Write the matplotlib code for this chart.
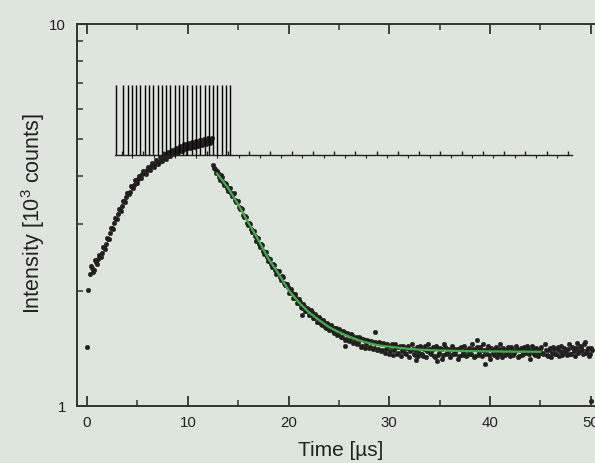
import numpy as np
import matplotlib
matplotlib.use("Agg")
import matplotlib.pyplot as plt

# ---- data ----
# two early points at the very start of the trace
early_t = [0.03, 0.13]
early_y = [1.43, 2.01]

# rising part, two interleaved sample sets, every 0.2 us
rise_t0, rise_dt = 0.3, 0.2
rise_y = [2.22, 2.30, 2.27, 2.38, 2.42, 2.47, 2.52, 2.60, 2.66, 2.74,
          2.84, 2.93, 3.02, 3.08, 3.18, 3.27, 3.33, 3.45, 3.52, 3.60,
          3.64, 3.75, 3.80, 3.84, 3.93, 3.96, 4.05, 4.08, 4.15, 4.18,
          4.24, 4.27, 4.30, 4.36, 4.35, 4.42, 4.46, 4.47, 4.55, 4.52,
          4.60, 4.63, 4.62, 4.70, 4.66, 4.74, 4.72, 4.78, 4.76, 4.81,
          4.79, 4.85, 4.82, 4.88, 4.84, 4.90, 4.87, 4.93, 4.90, 4.96,
          4.94]
rise2_t0 = 0.4
rise2_y = [2.33, 2.24, 2.41, 2.36, 2.49, 2.46, 2.60, 2.58, 2.75, 2.74,
           2.92, 2.90, 3.10, 3.08, 3.27, 3.24, 3.44, 3.42, 3.62, 3.58,
           3.76, 3.72, 3.90, 3.83, 4.01, 3.95, 4.13, 4.05, 4.23, 4.15,
           4.33, 4.23, 4.41, 4.30, 4.49, 4.38, 4.56, 4.44, 4.62, 4.50,
           4.68, 4.56, 4.74, 4.61, 4.79, 4.66, 4.84, 4.70, 4.88, 4.74,
           4.91, 4.77, 4.95, 4.80, 4.98, 4.83, 5.01, 4.86, 5.03, 4.89,
           5.02]

# decay part, two interleaved sample sets, every 0.2 us
decay_t0, decay_dt = 12.5, 0.2
decay_y = [4.28, 4.18, 4.12, 3.98, 4.02, 3.86, 3.84, 3.72, 3.73, 3.60,
           3.58, 3.47, 3.44, 3.31, 3.30, 3.17, 3.14, 3.02, 3.01, 2.91,
           2.88, 2.78, 2.76, 2.66, 2.65, 2.55, 2.53, 2.45, 2.42, 2.36,
           2.35, 2.27, 2.25, 2.18, 2.19, 2.10, 2.09, 2.05, 1.99, 1.98,
           1.92, 1.92, 1.86, 1.87, 1.81, 1.83, 1.77, 1.79, 1.73, 1.76,
           1.70, 1.72, 1.66, 1.69, 1.63, 1.66, 1.60, 1.63, 1.59, 1.61,
           1.55, 1.60, 1.54, 1.57, 1.52, 1.56, 1.50, 1.54, 1.49, 1.53,
           1.47, 1.52, 1.46, 1.51, 1.44, 1.49, 1.45, 1.48, 1.43, 1.47,
           1.42, 1.46, 1.41, 1.46, 1.40, 1.45, 1.41, 1.44, 1.39, 1.45,
           1.40, 1.43, 1.38, 1.44, 1.39, 1.42, 1.37, 1.44, 1.39, 1.41,
           1.36, 1.43, 1.38, 1.42, 1.35, 1.44, 1.39, 1.41, 1.37, 1.43,
           1.34, 1.42, 1.38, 1.41, 1.36, 1.43, 1.38, 1.40, 1.36, 1.42,
           1.37, 1.41, 1.35, 1.43, 1.38, 1.40, 1.36, 1.42, 1.37, 1.41,
           1.35, 1.43, 1.38, 1.40, 1.45, 1.37, 1.41, 1.36, 1.42, 1.38,
           1.40, 1.34, 1.41, 1.37, 1.42, 1.36, 1.40, 1.38, 1.43, 1.36,
           1.39, 1.41, 1.35, 1.42, 1.37, 1.40, 1.44, 1.37, 1.39, 1.42,
           1.36, 1.40, 1.38, 1.43, 1.37, 1.40, 1.35, 1.42, 1.38, 1.41,
           1.37, 1.43, 1.39, 1.36, 1.42, 1.38, 1.41, 1.37, 1.43, 1.39,
           1.42, 1.38, 1.44, 1.40, 1.45, 1.38, 1.42, 1.37, 1.40]
decay2_t0 = 12.6
decay2_y = [4.20, 4.07, 4.08, 3.90, 3.97, 3.80, 3.81, 3.66, 3.73, 3.55,
            3.60, 3.41, 3.44, 3.27, 3.28, 3.12, 3.13, 2.97, 3.00, 2.85,
            2.88, 2.71, 2.76, 2.61, 2.64, 2.50, 2.53, 2.40, 2.43, 2.31,
            2.34, 2.22, 2.26, 2.14, 2.18, 2.07, 2.09, 1.98, 2.03, 1.92,
            1.96, 1.86, 1.91, 1.82, 1.85, 1.77, 1.81, 1.73, 1.78, 1.70,
            1.74, 1.66, 1.71, 1.64, 1.68, 1.61, 1.65, 1.58, 1.63, 1.57,
            1.60, 1.53, 1.59, 1.52, 1.57, 1.49, 1.55, 1.48, 1.54, 1.46,
            1.51, 1.45, 1.52, 1.43, 1.50, 1.42, 1.49, 1.42, 1.48, 1.41,
            1.47, 1.40, 1.47, 1.39, 1.46, 1.38, 1.45, 1.37, 1.44, 1.36,
            1.45, 1.37, 1.43, 1.35, 1.44, 1.38, 1.42, 1.34, 1.45, 1.37,
            1.40, 1.35, 1.44, 1.37, 1.41, 1.34, 1.45, 1.38, 1.40, 1.35,
            1.44, 1.36, 1.42, 1.33, 1.45, 1.37, 1.41, 1.34, 1.44, 1.38,
            1.40, 1.33, 1.42, 1.36, 1.44, 1.35, 1.40, 1.37, 1.45, 1.34,
            1.41, 1.36, 1.43, 1.35, 1.40, 1.38, 1.44, 1.33, 1.41, 1.36,
            1.43, 1.38, 1.45, 1.34, 1.40, 1.37, 1.43, 1.35, 1.41, 1.38,
            1.44, 1.34, 1.40, 1.36, 1.43, 1.38, 1.41, 1.33, 1.44, 1.37,
            1.42, 1.35, 1.41, 1.38, 1.45, 1.36, 1.40, 1.34, 1.43, 1.37,
            1.41, 1.35, 1.44, 1.38, 1.40, 1.36, 1.45, 1.37, 1.42, 1.35,
            1.46, 1.39, 1.43, 1.37, 1.47, 1.40, 1.35, 1.42]

# a few stray points away from the band
stray_t = [21.3, 25.6, 28.6, 32.6, 34.7, 38.7, 39.5, 50.0]
stray_y = [1.73, 1.44, 1.56, 1.32, 1.31, 1.49, 1.29, 1.03]

# fitted decay curve
fit_t = [12.9, 13, 14, 15, 16, 17, 18, 19, 20, 21, 22, 23, 24, 25, 26,
         27, 28, 29, 30, 31, 32, 33, 34, 36, 38, 40, 42, 45]
fit_y = [4.06, 4.03, 3.72, 3.37, 3.02, 2.72, 2.43, 2.22, 2.01, 1.87, 1.76,
         1.68, 1.61, 1.56, 1.52, 1.485, 1.46, 1.44, 1.43, 1.42, 1.41,
         1.405, 1.40, 1.395, 1.392, 1.39, 1.388, 1.387]

# pulse train schematic
pulse_t = [2.85, 3.60, 4.02, 4.45, 4.87, 5.30, 5.72, 6.14, 6.57, 6.99,
           7.42, 7.84, 8.26, 8.69, 9.11, 9.54, 9.96, 10.38, 10.81, 11.23,
           11.66, 12.08, 12.50, 12.93, 13.35, 13.78, 14.20]
pulse_low, pulse_high = 4.54, 6.93
train_start, train_end = 2.8, 48.1
train_major = [3.45, 5.56, 7.66, 9.77, 11.88, 13.99, 16.09, 18.20, 20.31,
               22.42, 24.52, 26.63, 28.74, 30.85, 32.95, 35.06, 37.17,
               39.28, 41.38, 43.49, 45.60, 47.70]
train_minor = [4.50, 6.61, 8.72, 10.83, 12.93, 15.04, 17.15, 19.25, 21.36,
               23.47, 25.58, 27.68, 29.79, 31.90, 34.01, 36.11, 38.22,
               40.33, 42.44, 44.54, 46.65]

# ---- styling ----
plt.rcParams['font.family'] = ['Liberation Sans', 'DejaVu Sans']
plt.rcParams['mathtext.fontset'] = 'custom'
plt.rcParams['mathtext.rm'] = 'Liberation Sans'
plt.rcParams['mathtext.default'] = 'regular'

bg = '#dee5dd'
ink = '#231f20'
edge = '#333333'

fig = plt.figure(figsize=(5.95, 4.63), dpi=100, facecolor=bg)
ax = fig.add_axes([77 / 595, 57 / 463, 534 / 595, 382 / 463])
ax.set_facecolor(bg)

rise_t = rise_t0 + rise_dt * np.arange(len(rise_y))
rise2_t = rise2_t0 + rise_dt * np.arange(len(rise2_y))
decay_t = decay_t0 + decay_dt * np.arange(len(decay_y))
decay2_t = decay2_t0 + decay_dt * np.arange(len(decay2_y))

dot = dict(ls='none', marker='o', ms=3.3, color=ink, mec=ink, mew=0.3)
ax.plot(early_t, early_y, **dot)
ax.plot(rise_t, rise_y, **dot)
ax.plot(rise2_t, rise2_y, **dot)
ax.plot(decay_t, decay_y, **dot)
ax.plot(decay2_t, decay2_y, **dot)
ax.plot(stray_t, stray_y, **dot)
ax.plot(fit_t, fit_y, color='#3cb043', lw=1.6, zorder=3)

# pulse train
ax.vlines(pulse_t, pulse_low, pulse_high, color='black', lw=1.0)
ax.plot([train_start, train_end], [pulse_low, pulse_low], color=ink, lw=1.0)
ax.plot(train_major, [pulse_low] * len(train_major), ls='none',
        marker=2, ms=3, mew=1.0, color=ink)
ax.plot(train_minor, [pulse_low] * len(train_minor), ls='none',
        marker=3, ms=2, mew=0.8, color=ink)

ax.set_yscale('log')
ax.set_ylim(1, 10)
ax.set_xlim(-1, 52)
ax.set_xticks([0, 10, 20, 30, 40, 50])
ax.set_xticks([5, 15, 25, 35, 45], minor=True)
ax.set_yticks([1, 10])
ax.set_yticklabels(['1', '10'])
ax.yaxis.set_minor_formatter(matplotlib.ticker.NullFormatter())

ax.tick_params(axis='both', which='both', direction='in', color=edge,
               labelcolor='#222222', labelsize=10.8, top=True, right=False)
ax.tick_params(axis='x', which='major', length=7, width=1.3, pad=7)
ax.tick_params(axis='x', which='minor', length=4, width=1.1)
ax.tick_params(axis='y', which='major', length=7, width=1.3, pad=8)
ax.tick_params(axis='y', which='minor', length=4, width=1.1)

for side in ['left', 'bottom', 'top']:
    ax.spines[side].set_linewidth(1.4)
    ax.spines[side].set_color(edge)
ax.spines['right'].set_visible(False)

ax.set_xlabel('Time [µs]', fontsize=15, color='#222222')
ax.set_ylabel('Intensity [10$^{3}$ counts]', fontsize=15.5, color='#222222')
ax.xaxis.set_label_coords(0.493, -0.092)
ax.yaxis.set_label_coords(-0.056, 0.503)

fig.savefig('out.png', dpi=100, facecolor=bg)
